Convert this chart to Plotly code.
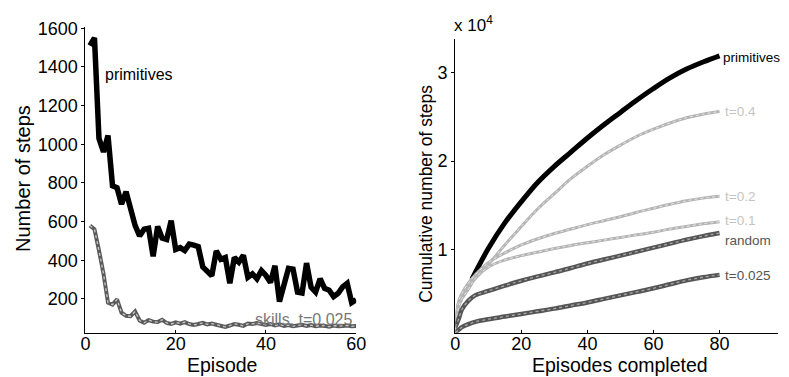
import plotly.graph_objects as go

W, H = 789, 377

# ---- Left panel data ----
episodes = list(range(1, 61))
primitives_steps = [1510, 1550, 1030, 960, 1045, 785, 775, 690, 755, 660,
                    580, 525, 560, 565, 420, 575, 515, 507, 605, 456,
                    465, 450, 483, 478, 470, 365, 340, 320, 448, 405,
                    414, 280, 414, 390, 425, 312, 329, 304, 346, 321,
                    285, 371, 186, 279, 358, 354, 235, 230, 385, 260,
                    235, 304, 254, 245, 212, 229, 262, 280, 180, 195]
skills_steps = [580, 560, 450, 330, 180, 170, 197, 128, 112, 110,
                135, 88, 76, 90, 82, 80, 92, 75, 70, 78,
                72, 80, 70, 65, 70, 76, 68, 72, 66, 60,
                55, 62, 70, 66, 60, 72, 70, 75, 68, 65,
                70, 62, 68, 60, 64, 58, 62, 66, 60, 64,
                58, 62, 60, 56, 62, 58, 60, 62, 58, 60]

# ---- Right panel data (cumulative steps, units of 1e4) ----
prim_x = [5, 10, 15, 20, 25, 30, 35, 40, 45, 50, 55, 60, 65, 70, 75, 80]
prim_cum = [0.66, 1.01, 1.30, 1.54, 1.76, 1.94, 2.10, 2.26, 2.41, 2.55, 2.69, 2.82, 2.94, 3.04, 3.12, 3.19]

cum_x = [0, 1, 2, 4, 6, 10, 15, 20, 25, 30, 35, 40, 45, 50, 55, 60, 65, 70, 75, 80]
t04_cum = [0.10, 0.40, 0.49, 0.60, 0.67, 0.83, 1.05, 1.26, 1.46, 1.63, 1.80, 1.94, 2.07, 2.18, 2.28, 2.36, 2.43, 2.49, 2.53, 2.56]
t02_cum = [0.10, 0.41, 0.50, 0.62, 0.71, 0.85, 0.96, 1.05, 1.12, 1.18, 1.23, 1.28, 1.325, 1.37, 1.42, 1.465, 1.51, 1.55, 1.58, 1.60]
t01_cum = [0.10, 0.34, 0.44, 0.55, 0.67, 0.80, 0.88, 0.93, 0.97, 1.01, 1.045, 1.075, 1.105, 1.135, 1.165, 1.195, 1.23, 1.26, 1.29, 1.314]
random_cum = [0.12, 0.21, 0.32, 0.42, 0.48, 0.53, 0.59, 0.645, 0.695, 0.74, 0.79, 0.84, 0.885, 0.93, 0.975, 1.02, 1.065, 1.11, 1.15, 1.185]
t0025_cum = [0.06, 0.09, 0.12, 0.155, 0.18, 0.21, 0.24, 0.27, 0.30, 0.33, 0.365, 0.40, 0.44, 0.48, 0.52, 0.56, 0.605, 0.65, 0.685, 0.712]

left_xticks = [0, 20, 40, 60]
left_yticks = [200, 400, 600, 800, 1000, 1200, 1400, 1600]
right_xticks = [0, 20, 40, 60, 80]
right_yticks = [1, 2, 3]

FONT = "Liberation Sans, Arial, Helvetica, sans-serif"

fig = go.Figure()

# left
fig.add_trace(go.Scatter(x=episodes, y=skills_steps, mode="lines", xaxis="x", yaxis="y",
                         line=dict(color="#5a5a5a", width=4), showlegend=False))
fig.add_trace(go.Scatter(x=episodes, y=skills_steps, mode="lines", xaxis="x", yaxis="y",
                         line=dict(color="#c8c8c8", width=1.3, dash="dot"), showlegend=False))
fig.add_trace(go.Scatter(x=episodes, y=primitives_steps, mode="lines", xaxis="x", yaxis="y",
                         line=dict(color="black", width=5.5), showlegend=False))

# right
fig.add_trace(go.Scatter(x=prim_x, y=prim_cum, mode="lines", xaxis="x2", yaxis="y2",
                         line=dict(color="black", width=5, shape="spline"), showlegend=False))
for ys in (t04_cum, t02_cum, t01_cum):
    fig.add_trace(go.Scatter(x=cum_x, y=ys, mode="lines", xaxis="x2", yaxis="y2",
                             line=dict(color="#b4b4b4", width=3, shape="spline"), showlegend=False))
    fig.add_trace(go.Scatter(x=cum_x, y=ys, mode="lines", xaxis="x2", yaxis="y2",
                             line=dict(color="#e6e6e6", width=1, dash="dot", shape="spline"), showlegend=False))
for ys in (random_cum, t0025_cum):
    fig.add_trace(go.Scatter(x=cum_x, y=ys, mode="lines", xaxis="x2", yaxis="y2",
                             line=dict(color="#555555", width=4.5, shape="spline"), showlegend=False))
    fig.add_trace(go.Scatter(x=cum_x, y=ys, mode="lines", xaxis="x2", yaxis="y2",
                             line=dict(color="#a8a8a8", width=1.3, dash="dot", shape="spline"), showlegend=False))

axis_common = dict(showline=True, linecolor="black", linewidth=1.2, showgrid=False, zeroline=False,
                   tickfont=dict(family=FONT, size=18, color="black"), tickcolor="black")

fig.update_layout(
    width=W, height=H, margin=dict(l=0, r=0, t=0, b=0),
    paper_bgcolor="white", plot_bgcolor="white",
    xaxis=dict(domain=[82/W, 358/W], range=[0, 60], tickvals=left_xticks, ticks="inside", ticklen=3,
               ticklabelstandoff=-5, anchor="y", **axis_common),
    yaxis=dict(domain=[(H-331.7)/H, (H-19)/H], range=[25, 1609], tickvals=left_yticks, ticks="outside",
               ticklen=3, anchor="x", **axis_common),
    xaxis2=dict(domain=[459/W, 788/W], range=[0, 97.7], tickvals=right_xticks, ticks="inside", ticklen=3,
                ticklabelstandoff=-5, anchor="y2", **axis_common),
    yaxis2=dict(domain=[(H-331.7)/H, (H-31.7)/H], range=[0.058, 3.38], tickvals=right_yticks, ticks="outside",
                ticklen=3, anchor="x2", **axis_common),
)

def ann(text, px, py, size, color="black", angle=0, xanchor="center"):
    fig.add_annotation(text=text, x=px/W, y=1-py/H, xref="paper", yref="paper", showarrow=False,
                       xanchor=xanchor, yanchor="middle", textangle=angle,
                       font=dict(family=FONT, size=size, color=color))

ann("Number of steps", 19, 174, 20, angle=-90)
ann("Episode", 221, 365, 19.5)
ann("Cumulative number of steps", 429, 190, 17.5, angle=-90)
ann("Episodes completed", 627, 365, 19.5)
ann("x 10<sup>4</sup>", 456, 16, 17, xanchor="left")

ann("primitives", 100, 68, 16, xanchor="left")
ann("skills, t=0.025", 253, 318, 16, color="#777777", xanchor="left")

ann("primitives", 730, 51, 13.5, xanchor="left")
ann("t=0.4", 732, 106, 13.5, color="#c4c4c4", xanchor="left")
ann("t=0.2", 732, 193, 13.5, color="#c4c4c4", xanchor="left")
ann("t=0.1", 732, 217, 13.5, color="#c4c4c4", xanchor="left")
ann("random", 732, 238, 13.5, color="#555555", xanchor="left")
ann("t=0.025", 732, 273, 13.5, color="#555555", xanchor="left")

fig.write_html("out.html")
